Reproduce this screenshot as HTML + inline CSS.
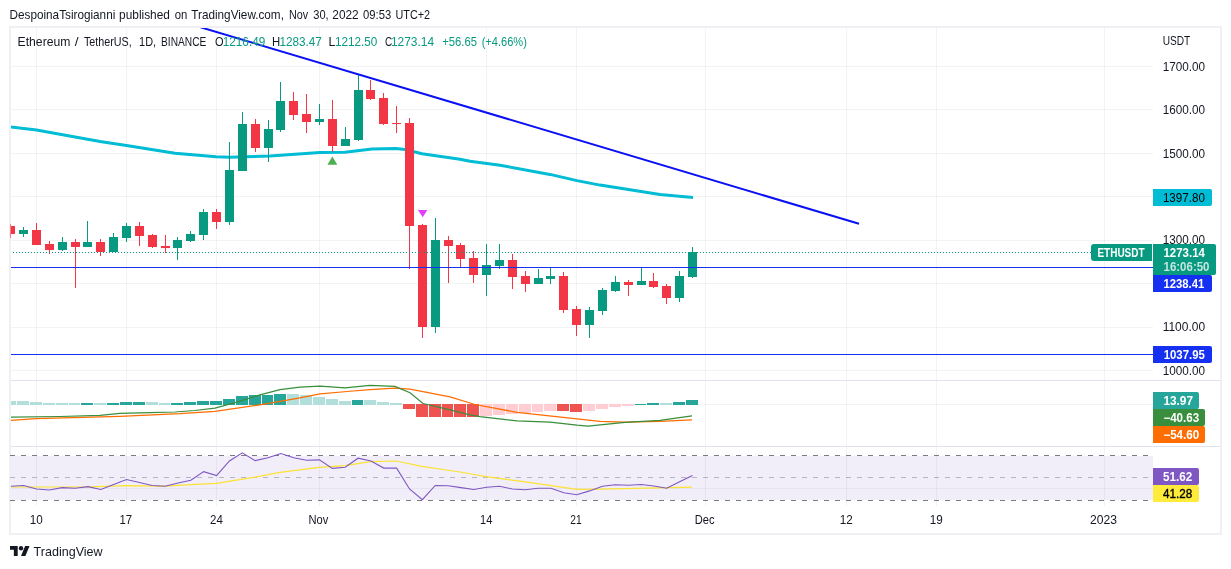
<!DOCTYPE html><html><head><meta charset="utf-8"><style>html,body{margin:0;padding:0;background:#fff;width:1231px;height:569px;overflow:hidden}svg{display:block}text{font-family:"Liberation Sans",sans-serif}</style></head><body>
<svg width="1231" height="569" viewBox="0 0 1231 569" style="will-change:transform">
<rect x="0" y="0" width="1231" height="569" fill="#ffffff"/>
<text x="9.50" y="18.70" font-size="13" fill="#131722" textLength="105.80" lengthAdjust="spacingAndGlyphs">DespoinaTsirogianni</text>
<text x="119.10" y="18.70" font-size="13" fill="#131722" textLength="50.80" lengthAdjust="spacingAndGlyphs">published</text>
<text x="174.70" y="18.70" font-size="13" fill="#131722" textLength="12.60" lengthAdjust="spacingAndGlyphs">on</text>
<text x="191.30" y="18.70" font-size="13" fill="#131722" textLength="92.60" lengthAdjust="spacingAndGlyphs">TradingView.com,</text>
<text x="288.90" y="18.70" font-size="13" fill="#131722" textLength="19.20" lengthAdjust="spacingAndGlyphs">Nov</text>
<text x="313.30" y="18.70" font-size="13" fill="#131722" textLength="15.40" lengthAdjust="spacingAndGlyphs">30,</text>
<text x="332.30" y="18.70" font-size="13" fill="#131722" textLength="26.40" lengthAdjust="spacingAndGlyphs">2022</text>
<text x="363.00" y="18.70" font-size="13" fill="#131722" textLength="28.20" lengthAdjust="spacingAndGlyphs">09:53</text>
<text x="395.50" y="18.70" font-size="13" fill="#131722" textLength="34.60" lengthAdjust="spacingAndGlyphs">UTC+2</text>
<rect x="10" y="27" width="1211" height="507" fill="none" stroke="#eef0f4" stroke-width="2"/>
<rect x="11" y="66" width="1142" height="1" fill="#2a2e39" fill-opacity="0.06"/>
<rect x="11" y="109" width="1142" height="1" fill="#2a2e39" fill-opacity="0.06"/>
<rect x="11" y="153" width="1142" height="1" fill="#2a2e39" fill-opacity="0.06"/>
<rect x="11" y="196" width="1142" height="1" fill="#2a2e39" fill-opacity="0.06"/>
<rect x="11" y="240" width="1142" height="1" fill="#2a2e39" fill-opacity="0.06"/>
<rect x="11" y="283" width="1142" height="1" fill="#2a2e39" fill-opacity="0.06"/>
<rect x="11" y="327" width="1142" height="1" fill="#2a2e39" fill-opacity="0.06"/>
<rect x="11" y="370" width="1142" height="1" fill="#2a2e39" fill-opacity="0.06"/>
<rect x="11" y="404" width="1142" height="1" fill="#2a2e39" fill-opacity="0.06"/>
<rect x="11" y="456" width="1142" height="44" fill="#7e57c2" fill-opacity="0.1"/>
<rect x="11" y="488" width="1142" height="1" fill="#2a2e39" fill-opacity="0.06"/>
<rect x="36" y="28" width="1" height="478" fill="#2a2e39" fill-opacity="0.06"/>
<rect x="126" y="28" width="1" height="478" fill="#2a2e39" fill-opacity="0.06"/>
<rect x="216" y="28" width="1" height="478" fill="#2a2e39" fill-opacity="0.06"/>
<rect x="319" y="28" width="1" height="478" fill="#2a2e39" fill-opacity="0.06"/>
<rect x="486" y="28" width="1" height="478" fill="#2a2e39" fill-opacity="0.06"/>
<rect x="576" y="28" width="1" height="478" fill="#2a2e39" fill-opacity="0.06"/>
<rect x="705" y="28" width="1" height="478" fill="#2a2e39" fill-opacity="0.06"/>
<rect x="846" y="28" width="1" height="478" fill="#2a2e39" fill-opacity="0.06"/>
<rect x="936" y="28" width="1" height="478" fill="#2a2e39" fill-opacity="0.06"/>
<rect x="1104" y="28" width="1" height="478" fill="#2a2e39" fill-opacity="0.06"/>
<rect x="11" y="380" width="1209" height="1" fill="#e0e3eb"/>
<rect x="11" y="446" width="1209" height="1" fill="#e0e3eb"/>
<line x1="10" y1="455.5" x2="1153" y2="455.5" stroke="#787b86" stroke-width="1" stroke-dasharray="5 6"/>
<line x1="10" y1="477.5" x2="1153" y2="477.5" stroke="#787b86" stroke-opacity="0.5" stroke-width="1" stroke-dasharray="5 6"/>
<line x1="10" y1="500.5" x2="1153" y2="500.5" stroke="#787b86" stroke-width="1" stroke-dasharray="5 6"/>
<defs><clipPath id="cp"><rect x="11" y="28" width="1142" height="352"/></clipPath><clipPath id="cp2"><rect x="11" y="381" width="1142" height="65"/></clipPath><clipPath id="cp3"><rect x="11" y="447" width="1142" height="59"/></clipPath></defs>
<g clip-path="url(#cp)">
<polyline points="11.00,127.00 36.50,130.00 100.00,141.60 126.50,145.50 175.00,153.30 216.00,156.80 230.00,157.20 245.00,156.80 270.00,155.90 320.00,152.40 345.00,152.20 372.00,149.10 396.00,148.50 405.00,149.50 422.00,153.80 460.00,159.20 470.00,161.20 500.00,165.20 550.00,174.40 577.00,180.60 600.00,185.10 660.00,194.50 693.00,197.40" fill="none" stroke="#00bcd4" stroke-width="3" stroke-linejoin="round" stroke-linecap="butt"/>
<rect x="10" y="224" width="1" height="14" fill="#f23645"/>
<rect x="6" y="226" width="9" height="8" fill="#f23645"/>
<rect x="23" y="227" width="1" height="10" fill="#089981"/>
<rect x="19" y="230" width="9" height="4" fill="#089981"/>
<rect x="36" y="223" width="1" height="22" fill="#f23645"/>
<rect x="32" y="230" width="9" height="15" fill="#f23645"/>
<rect x="49" y="241" width="1" height="13" fill="#f23645"/>
<rect x="45" y="244" width="9" height="6" fill="#f23645"/>
<rect x="62" y="237" width="1" height="14" fill="#089981"/>
<rect x="58" y="242" width="9" height="8" fill="#089981"/>
<rect x="75" y="239" width="1" height="49" fill="#f23645"/>
<rect x="71" y="242" width="9" height="5" fill="#f23645"/>
<rect x="87" y="221" width="1" height="26" fill="#089981"/>
<rect x="83" y="242" width="9" height="5" fill="#089981"/>
<rect x="100" y="239" width="1" height="17" fill="#f23645"/>
<rect x="96" y="242" width="9" height="10" fill="#f23645"/>
<rect x="113" y="233" width="1" height="19" fill="#089981"/>
<rect x="109" y="237" width="9" height="15" fill="#089981"/>
<rect x="126" y="223" width="1" height="19" fill="#089981"/>
<rect x="122" y="226" width="9" height="12" fill="#089981"/>
<rect x="139" y="222" width="1" height="24" fill="#f23645"/>
<rect x="135" y="226" width="9" height="10" fill="#f23645"/>
<rect x="152" y="234" width="1" height="14" fill="#f23645"/>
<rect x="148" y="235" width="9" height="12" fill="#f23645"/>
<rect x="165" y="235" width="1" height="18" fill="#f23645"/>
<rect x="161" y="246" width="9" height="2" fill="#f23645"/>
<rect x="177" y="237" width="1" height="23" fill="#089981"/>
<rect x="173" y="240" width="9" height="8" fill="#089981"/>
<rect x="190" y="231" width="1" height="11" fill="#089981"/>
<rect x="186" y="234" width="9" height="7" fill="#089981"/>
<rect x="203" y="209" width="1" height="31" fill="#089981"/>
<rect x="199" y="212" width="9" height="23" fill="#089981"/>
<rect x="216" y="209" width="1" height="20" fill="#f23645"/>
<rect x="212" y="212" width="9" height="10" fill="#f23645"/>
<rect x="229" y="142" width="1" height="83" fill="#089981"/>
<rect x="225" y="170" width="9" height="52" fill="#089981"/>
<rect x="242" y="112" width="1" height="59" fill="#089981"/>
<rect x="238" y="124" width="9" height="47" fill="#089981"/>
<rect x="255" y="119" width="1" height="33" fill="#f23645"/>
<rect x="251" y="124" width="9" height="24" fill="#f23645"/>
<rect x="268" y="120" width="1" height="42" fill="#089981"/>
<rect x="264" y="129" width="9" height="19" fill="#089981"/>
<rect x="280" y="82" width="1" height="50" fill="#089981"/>
<rect x="276" y="101" width="9" height="29" fill="#089981"/>
<rect x="293" y="92" width="1" height="28" fill="#f23645"/>
<rect x="289" y="101" width="9" height="14" fill="#f23645"/>
<rect x="306" y="94" width="1" height="39" fill="#f23645"/>
<rect x="302" y="114" width="9" height="8" fill="#f23645"/>
<rect x="319" y="104" width="1" height="21" fill="#089981"/>
<rect x="315" y="119" width="9" height="3" fill="#089981"/>
<rect x="332" y="100" width="1" height="52" fill="#f23645"/>
<rect x="328" y="119" width="9" height="27" fill="#f23645"/>
<rect x="345" y="127" width="1" height="19" fill="#089981"/>
<rect x="341" y="139" width="9" height="7" fill="#089981"/>
<rect x="358" y="75" width="1" height="66" fill="#089981"/>
<rect x="354" y="90" width="9" height="50" fill="#089981"/>
<rect x="370" y="80" width="1" height="20" fill="#f23645"/>
<rect x="366" y="90" width="9" height="9" fill="#f23645"/>
<rect x="383" y="93" width="1" height="32" fill="#f23645"/>
<rect x="379" y="98" width="9" height="26" fill="#f23645"/>
<rect x="396" y="106" width="1" height="27" fill="#f23645"/>
<rect x="392" y="123" width="9" height="1" fill="#f23645"/>
<rect x="409" y="118" width="1" height="151" fill="#f23645"/>
<rect x="405" y="123" width="9" height="103" fill="#f23645"/>
<rect x="422" y="224" width="1" height="114" fill="#f23645"/>
<rect x="418" y="225" width="9" height="102" fill="#f23645"/>
<rect x="435" y="218" width="1" height="115" fill="#089981"/>
<rect x="431" y="240" width="9" height="87" fill="#089981"/>
<rect x="448" y="236" width="1" height="47" fill="#f23645"/>
<rect x="444" y="240" width="9" height="6" fill="#f23645"/>
<rect x="460" y="243" width="1" height="24" fill="#f23645"/>
<rect x="456" y="245" width="9" height="14" fill="#f23645"/>
<rect x="473" y="251" width="1" height="32" fill="#f23645"/>
<rect x="469" y="258" width="9" height="17" fill="#f23645"/>
<rect x="486" y="244" width="1" height="52" fill="#089981"/>
<rect x="482" y="265" width="9" height="10" fill="#089981"/>
<rect x="499" y="244" width="1" height="25" fill="#089981"/>
<rect x="495" y="260" width="9" height="6" fill="#089981"/>
<rect x="512" y="254" width="1" height="35" fill="#f23645"/>
<rect x="508" y="260" width="9" height="17" fill="#f23645"/>
<rect x="525" y="271" width="1" height="21" fill="#f23645"/>
<rect x="521" y="276" width="9" height="8" fill="#f23645"/>
<rect x="538" y="269" width="1" height="15" fill="#089981"/>
<rect x="534" y="278" width="9" height="6" fill="#089981"/>
<rect x="550" y="267" width="1" height="17" fill="#089981"/>
<rect x="546" y="276" width="9" height="3" fill="#089981"/>
<rect x="563" y="272" width="1" height="41" fill="#f23645"/>
<rect x="559" y="276" width="9" height="34" fill="#f23645"/>
<rect x="576" y="306" width="1" height="30" fill="#f23645"/>
<rect x="572" y="309" width="9" height="16" fill="#f23645"/>
<rect x="589" y="307" width="1" height="31" fill="#089981"/>
<rect x="585" y="310" width="9" height="15" fill="#089981"/>
<rect x="602" y="288" width="1" height="27" fill="#089981"/>
<rect x="598" y="290" width="9" height="21" fill="#089981"/>
<rect x="615" y="276" width="1" height="16" fill="#089981"/>
<rect x="611" y="282" width="9" height="9" fill="#089981"/>
<rect x="628" y="280" width="1" height="16" fill="#f23645"/>
<rect x="624" y="282" width="9" height="3" fill="#f23645"/>
<rect x="641" y="268" width="1" height="17" fill="#089981"/>
<rect x="637" y="281" width="9" height="4" fill="#089981"/>
<rect x="653" y="273" width="1" height="15" fill="#f23645"/>
<rect x="649" y="281" width="9" height="6" fill="#f23645"/>
<rect x="666" y="284" width="1" height="20" fill="#f23645"/>
<rect x="662" y="286" width="9" height="12" fill="#f23645"/>
<rect x="679" y="271" width="1" height="31" fill="#089981"/>
<rect x="675" y="276" width="9" height="22" fill="#089981"/>
<rect x="692" y="247" width="1" height="31" fill="#089981"/>
<rect x="688" y="252" width="9" height="25" fill="#089981"/>
<line x1="1" y1="252.5" x2="1091" y2="252.5" stroke="#089981" stroke-width="1" stroke-dasharray="1 2"/>
<rect x="11" y="267" width="1142" height="1" fill="#1530f0"/>
<rect x="11" y="354" width="1142" height="1" fill="#1530f0"/>
<line x1="199.7" y1="27" x2="859" y2="223.8" stroke="#0a10f5" stroke-width="2"/>
<polygon points="327.4,164.8 337.3,164.8 332.35,156.6" fill="#4caf50"/>
<polygon points="418,210 427.4,210 422.7,217.2" fill="#e040fb"/>
</g>
<rect x="10" y="224" width="1" height="14" fill="#f23645" fill-opacity="0.6"/>
<g clip-path="url(#cp2)">
<rect x="4" y="401" width="12" height="4" fill="#b2dfdb"/>
<rect x="17" y="401" width="12" height="4" fill="#b2dfdb"/>
<rect x="30" y="402" width="12" height="3" fill="#b2dfdb"/>
<rect x="43" y="403" width="12" height="2" fill="#b2dfdb"/>
<rect x="56" y="403" width="12" height="2" fill="#b2dfdb"/>
<rect x="69" y="403" width="11" height="2" fill="#b2dfdb"/>
<rect x="81" y="403" width="12" height="2" fill="#26a69a"/>
<rect x="94" y="403" width="12" height="2" fill="#b2dfdb"/>
<rect x="107" y="403" width="12" height="2" fill="#26a69a"/>
<rect x="120" y="402" width="12" height="3" fill="#26a69a"/>
<rect x="133" y="402" width="12" height="3" fill="#26a69a"/>
<rect x="146" y="402" width="12" height="3" fill="#b2dfdb"/>
<rect x="159" y="403" width="11" height="2" fill="#b2dfdb"/>
<rect x="171" y="403" width="12" height="2" fill="#26a69a"/>
<rect x="184" y="402" width="12" height="3" fill="#26a69a"/>
<rect x="197" y="401" width="12" height="4" fill="#26a69a"/>
<rect x="210" y="401" width="12" height="4" fill="#26a69a"/>
<rect x="223" y="399" width="12" height="6" fill="#26a69a"/>
<rect x="236" y="396" width="12" height="9" fill="#26a69a"/>
<rect x="249" y="395" width="12" height="10" fill="#26a69a"/>
<rect x="262" y="395" width="11" height="10" fill="#26a69a"/>
<rect x="274" y="394" width="12" height="11" fill="#26a69a"/>
<rect x="287" y="394" width="12" height="11" fill="#b2dfdb"/>
<rect x="300" y="395" width="12" height="10" fill="#b2dfdb"/>
<rect x="313" y="397" width="12" height="8" fill="#b2dfdb"/>
<rect x="326" y="399" width="12" height="6" fill="#b2dfdb"/>
<rect x="339" y="401" width="12" height="4" fill="#b2dfdb"/>
<rect x="352" y="400" width="11" height="5" fill="#26a69a"/>
<rect x="364" y="400" width="12" height="5" fill="#b2dfdb"/>
<rect x="377" y="402" width="12" height="3" fill="#b2dfdb"/>
<rect x="390" y="403" width="12" height="2" fill="#b2dfdb"/>
<rect x="403" y="404" width="12" height="5" fill="#ef5350"/>
<rect x="416" y="404" width="12" height="13" fill="#ef5350"/>
<rect x="429" y="404" width="12" height="13" fill="#ef5350"/>
<rect x="442" y="404" width="11" height="13" fill="#ef5350"/>
<rect x="454" y="404" width="12" height="13" fill="#ef5350"/>
<rect x="467" y="404" width="12" height="13" fill="#ef5350"/>
<rect x="480" y="404" width="12" height="12" fill="#ffcdd2"/>
<rect x="493" y="404" width="12" height="11" fill="#ffcdd2"/>
<rect x="506" y="404" width="12" height="10" fill="#ffcdd2"/>
<rect x="519" y="404" width="12" height="9" fill="#ffcdd2"/>
<rect x="532" y="404" width="11" height="8" fill="#ffcdd2"/>
<rect x="544" y="404" width="12" height="7" fill="#ffcdd2"/>
<rect x="557" y="404" width="12" height="7" fill="#ef5350"/>
<rect x="570" y="404" width="12" height="8" fill="#ef5350"/>
<rect x="583" y="404" width="12" height="7" fill="#ffcdd2"/>
<rect x="596" y="404" width="12" height="5" fill="#ffcdd2"/>
<rect x="609" y="404" width="12" height="3" fill="#ffcdd2"/>
<rect x="622" y="404" width="12" height="2" fill="#ffcdd2"/>
<rect x="635" y="404" width="11" height="1" fill="#26a69a"/>
<rect x="647" y="403" width="12" height="2" fill="#26a69a"/>
<rect x="660" y="403" width="12" height="2" fill="#b2dfdb"/>
<rect x="673" y="402" width="12" height="3" fill="#26a69a"/>
<rect x="686" y="400" width="12" height="5" fill="#26a69a"/>
<polyline points="11.00,420.50 36.00,418.70 120.00,416.30 180.00,413.70 215.00,411.30 260.00,404.90 300.00,397.80 320.00,393.90 347.00,391.50 370.00,389.70 395.00,388.20 410.00,389.20 450.00,396.80 475.00,404.50 517.00,412.30 577.00,418.90 600.00,421.40 625.00,422.00 660.00,421.40 692.00,419.80" fill="none" stroke="#ff6d00" stroke-width="1.25"/>
<polyline points="11.00,417.20 60.00,416.50 100.00,415.30 120.00,413.40 150.00,412.60 175.00,412.00 195.00,410.50 215.00,408.10 235.00,402.70 260.00,394.90 280.00,389.70 300.00,387.10 320.00,386.10 345.00,387.80 370.00,385.30 395.00,386.40 410.00,392.80 423.00,403.50 450.00,409.90 470.00,414.80 480.00,416.70 517.00,420.80 550.00,422.10 577.00,425.20 588.00,426.00 625.00,422.40 660.00,420.40 692.00,415.80" fill="none" stroke="#388e3c" stroke-width="1.25"/>
</g>
<g clip-path="url(#cp3)">
<polyline points="11.00,487.00 90.00,486.90 126.00,485.70 165.00,486.20 200.00,484.20 216.50,483.40 255.00,477.20 280.00,472.40 319.00,467.30 345.00,465.60 370.00,461.60 396.00,461.00 422.00,466.30 460.00,472.00 486.00,476.70 520.00,481.20 577.00,489.40 600.00,489.10 692.00,487.10" fill="none" stroke="#fbe233" stroke-width="1.2"/>
<polyline points="11.00,486.20 23.63,485.50 36.49,489.00 49.35,490.00 62.22,487.60 75.08,488.30 87.94,486.60 100.80,489.50 113.67,484.50 126.53,479.50 139.39,482.50 152.25,485.50 165.12,486.20 177.98,483.00 190.84,480.20 203.70,471.60 216.57,475.50 229.43,461.00 242.29,452.80 255.15,460.60 268.01,457.80 280.88,453.50 293.74,457.80 306.60,460.30 319.47,459.90 332.33,468.40 345.19,467.30 358.05,458.20 370.92,461.00 383.78,468.10 396.64,468.10 409.50,489.00 422.37,499.70 435.23,485.50 448.09,485.80 460.95,487.60 473.82,489.50 486.68,487.30 499.54,486.20 512.40,489.00 525.26,489.70 538.13,488.20 550.99,488.20 563.85,492.80 576.72,494.80 589.58,490.90 602.44,486.30 615.30,484.80 628.17,485.20 641.03,484.50 653.89,486.00 666.75,488.20 679.62,481.70 692.48,475.50" fill="none" stroke="#7e57c2" stroke-width="1.1"/>
</g>
<text x="17.60" y="45.90" font-size="13" fill="#131722" textLength="52.80" lengthAdjust="spacingAndGlyphs">Ethereum</text>
<text x="74.80" y="45.90" font-size="13" fill="#131722" textLength="3.80" lengthAdjust="spacingAndGlyphs">/</text>
<text x="83.90" y="45.90" font-size="13" fill="#131722" textLength="47.80" lengthAdjust="spacingAndGlyphs">TetherUS,</text>
<text x="139.10" y="45.90" font-size="13" fill="#131722" textLength="17.00" lengthAdjust="spacingAndGlyphs">1D,</text>
<text x="161.00" y="45.90" font-size="13" fill="#131722" textLength="45.40" lengthAdjust="spacingAndGlyphs">BINANCE</text>
<text x="215.00" y="45.90" font-size="13" fill="#131722" textLength="8.60" lengthAdjust="spacingAndGlyphs">O</text>
<text x="222.70" y="45.90" font-size="13" fill="#089981" textLength="42.60" lengthAdjust="spacingAndGlyphs">1216.49</text>
<text x="271.90" y="45.90" font-size="13" fill="#131722" textLength="8.20" lengthAdjust="spacingAndGlyphs">H</text>
<text x="279.50" y="45.90" font-size="13" fill="#089981" textLength="42.40" lengthAdjust="spacingAndGlyphs">1283.47</text>
<text x="328.60" y="45.90" font-size="13" fill="#131722" textLength="6.80" lengthAdjust="spacingAndGlyphs">L</text>
<text x="335.00" y="45.90" font-size="13" fill="#089981" textLength="42.40" lengthAdjust="spacingAndGlyphs">1212.50</text>
<text x="385.00" y="45.90" font-size="13" fill="#131722" textLength="7.20" lengthAdjust="spacingAndGlyphs">C</text>
<text x="390.90" y="45.90" font-size="13" fill="#089981" textLength="43.20" lengthAdjust="spacingAndGlyphs">1273.14</text>
<text x="442.20" y="45.90" font-size="13" fill="#089981" textLength="34.80" lengthAdjust="spacingAndGlyphs">+56.65</text>
<text x="481.70" y="45.90" font-size="13" fill="#089981" textLength="45.20" lengthAdjust="spacingAndGlyphs">(+4.66%)</text>
<text x="1162.70" y="44.80" font-size="12" fill="#131722" textLength="27.60" lengthAdjust="spacingAndGlyphs">USDT</text>
<text x="1162.70" y="70.70" font-size="12" fill="#131722" textLength="42.40" lengthAdjust="spacingAndGlyphs">1700.00</text>
<text x="1162.70" y="114.10" font-size="12" fill="#131722" textLength="42.40" lengthAdjust="spacingAndGlyphs">1600.00</text>
<text x="1162.70" y="157.60" font-size="12" fill="#131722" textLength="42.40" lengthAdjust="spacingAndGlyphs">1500.00</text>
<text x="1162.70" y="244.40" font-size="12" fill="#131722" textLength="42.40" lengthAdjust="spacingAndGlyphs">1300.00</text>
<text x="1162.70" y="331.30" font-size="12" fill="#131722" textLength="42.40" lengthAdjust="spacingAndGlyphs">1100.00</text>
<text x="1162.70" y="374.70" font-size="12" fill="#131722" textLength="42.40" lengthAdjust="spacingAndGlyphs">1000.00</text>
<path d="M1153,189 H1210 a2,2 0 0 1 2,2 V204 a2,2 0 0 1 -2,2 H1153 Z" fill="#00bcd4"/>
<text x="1162.90" y="201.90" font-size="12" fill="#000000" textLength="42.00" lengthAdjust="spacingAndGlyphs">1397.80</text>
<path d="M1094,244 H1152 V261 H1094 a3,3 0 0 1 -3,-3 V247 a3,3 0 0 1 3,-3 Z" fill="#089981"/>
<text x="1097.40" y="257.00" font-size="12" fill="#ffffff" textLength="47.20" lengthAdjust="spacingAndGlyphs" font-weight="bold">ETHUSDT</text>
<path d="M1153,244 H1214 a2,2 0 0 1 2,2 V273 a2,2 0 0 1 -2,2 H1153 Z" fill="#089981"/>
<text x="1163.50" y="256.90" font-size="12" fill="#ffffff" textLength="41.40" lengthAdjust="spacingAndGlyphs" font-weight="bold">1273.14</text>
<text x="1163.50" y="270.80" font-size="12" fill="#ffffff" textLength="46.00" lengthAdjust="spacingAndGlyphs" font-weight="bold" fill-opacity="0.75">16:06:50</text>
<path d="M1153,275 H1210 a2,2 0 0 1 2,2 V290 a2,2 0 0 1 -2,2 H1153 Z" fill="#1530f0"/>
<text x="1163.50" y="287.90" font-size="12" fill="#ffffff" textLength="40.80" lengthAdjust="spacingAndGlyphs" font-weight="bold">1238.41</text>
<path d="M1153,346 H1210 a2,2 0 0 1 2,2 V361 a2,2 0 0 1 -2,2 H1153 Z" fill="#1530f0"/>
<text x="1163.70" y="358.80" font-size="12" fill="#ffffff" textLength="41.20" lengthAdjust="spacingAndGlyphs" font-weight="bold">1037.95</text>
<path d="M1153,392 H1197 a2,2 0 0 1 2,2 V407 a2,2 0 0 1 -2,2 H1153 Z" fill="#26a69a"/>
<text x="1163.40" y="404.80" font-size="12" fill="#ffffff" textLength="29.60" lengthAdjust="spacingAndGlyphs" font-weight="bold">13.97</text>
<path d="M1153,409 H1203 a2,2 0 0 1 2,2 V424 a2,2 0 0 1 -2,2 H1153 Z" fill="#388e3c"/>
<text x="1163.40" y="421.80" font-size="12" fill="#ffffff" textLength="35.80" lengthAdjust="spacingAndGlyphs" font-weight="bold">−40.63</text>
<path d="M1153,426 H1203 a2,2 0 0 1 2,2 V441 a2,2 0 0 1 -2,2 H1153 Z" fill="#ff6d00"/>
<text x="1163.40" y="438.80" font-size="12" fill="#ffffff" textLength="35.80" lengthAdjust="spacingAndGlyphs" font-weight="bold">−54.60</text>
<path d="M1153,468 H1197 a2,2 0 0 1 2,2 V483 a2,2 0 0 1 -2,2 H1153 Z" fill="#7e57c2"/>
<text x="1163.00" y="480.80" font-size="12" fill="#ffffff" textLength="29.20" lengthAdjust="spacingAndGlyphs" font-weight="bold">51.62</text>
<path d="M1153,485 H1197 a2,2 0 0 1 2,2 V500 a2,2 0 0 1 -2,2 H1153 Z" fill="#ffeb3b"/>
<text x="1163.00" y="497.80" font-size="12" fill="#000000" textLength="29.20" lengthAdjust="spacingAndGlyphs" stroke="#000000" stroke-width="0.35">41.28</text>
<text x="29.70" y="523.80" font-size="12" fill="#131722" textLength="13.00" lengthAdjust="spacingAndGlyphs">10</text>
<text x="119.50" y="523.80" font-size="12" fill="#131722" textLength="12.60" lengthAdjust="spacingAndGlyphs">17</text>
<text x="210.10" y="523.80" font-size="12" fill="#131722" textLength="12.80" lengthAdjust="spacingAndGlyphs">24</text>
<text x="308.50" y="523.80" font-size="12" fill="#131722" textLength="19.80" lengthAdjust="spacingAndGlyphs">Nov</text>
<text x="480.10" y="523.80" font-size="12" fill="#131722" textLength="12.20" lengthAdjust="spacingAndGlyphs">14</text>
<text x="570.30" y="523.80" font-size="12" fill="#131722" textLength="11.40" lengthAdjust="spacingAndGlyphs">21</text>
<text x="694.80" y="523.80" font-size="12" fill="#131722" textLength="19.80" lengthAdjust="spacingAndGlyphs">Dec</text>
<text x="839.80" y="523.80" font-size="12" fill="#131722" textLength="13.00" lengthAdjust="spacingAndGlyphs">12</text>
<text x="929.80" y="523.80" font-size="12" fill="#131722" textLength="13.00" lengthAdjust="spacingAndGlyphs">19</text>
<text x="1090.10" y="523.80" font-size="12" fill="#131722" textLength="27.00" lengthAdjust="spacingAndGlyphs">2023</text>
<g transform="translate(10,543.8) scale(0.55)" fill="#131722"><path d="M14 22H7V11H0V4h14v18zM28 22h-8l7.5-18h8L28 22z"/><circle cx="20" cy="8" r="4"/></g>
<text x="33.60" y="555.90" font-size="13.5" fill="#131722" textLength="69.00" lengthAdjust="spacingAndGlyphs">TradingView</text>
</svg></body></html>
